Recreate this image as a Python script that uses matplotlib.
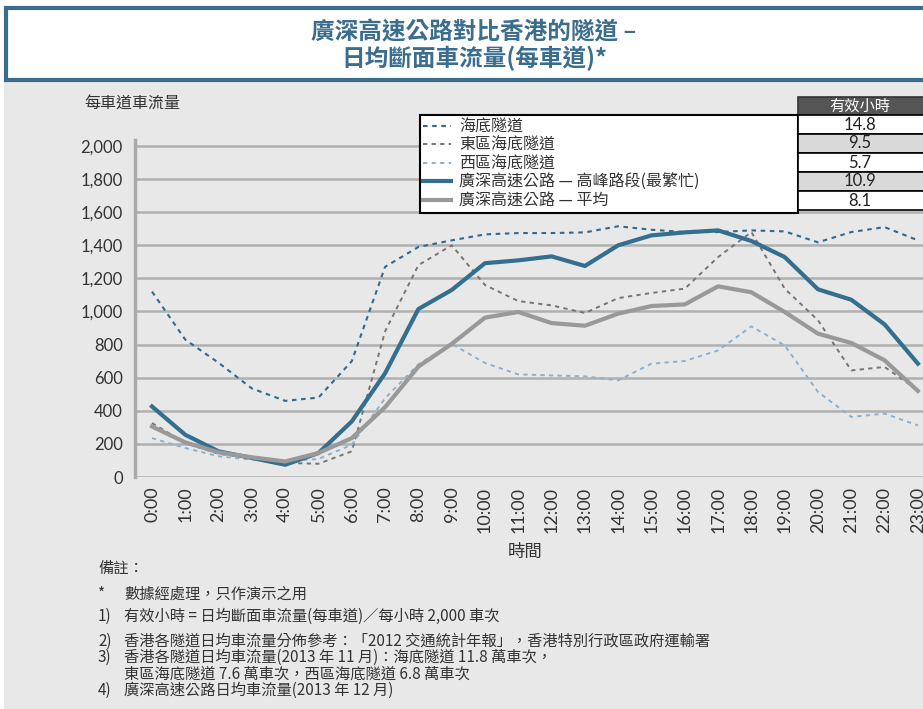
import matplotlib
matplotlib.use("Agg")
import matplotlib.pyplot as plt
from matplotlib.patches import Rectangle

plt.rcParams['font.family'] = ['Noto Sans CJK TC', 'DejaVu Sans']

hours = [f"{h}:00" for h in range(24)]

harbour = [1120, 830, 690, 535, 460, 480, 700, 1270, 1390, 1430, 1466, 1474,
           1474, 1478, 1515, 1494, 1480, 1480, 1490, 1484, 1418, 1480, 1510, 1430]
eastern = [326, 205, 140, 115, 85, 80, 155, 880, 1280, 1400, 1160, 1063,
           1037, 991, 1081, 1112, 1138, 1329, 1480, 1138, 947, 644, 665, 524]
western = [235, 175, 125, 105, 95, 109, 195, 476, 681, 804, 689, 620,
           614, 608, 584, 685, 701, 765, 910, 795, 514, 363, 383, 312]
gs_peak = [426, 255, 155, 115, 74, 145, 336, 627, 1015, 1130, 1292, 1309,
           1333, 1275, 1400, 1460, 1478, 1490, 1426, 1329, 1134, 1071, 922, 685]
gs_avg = [305, 209, 149, 119, 94, 145, 235, 422, 667, 804, 963, 997,
          930, 914, 987, 1033, 1043, 1152, 1116, 997, 866, 810, 705, 520]

series_labels = ["海底隧道", "東區海底隧道", "西區海底隧道",
                 "廣深高速公路 — 高峰路段(最繁忙)", "廣深高速公路 — 平均"]
effective_hours = ["14.8", "9.5", "5.7", "10.9", "8.1"]

notes = [
    ("*", "數據經處理，只作演示之用"),
    ("1)", "有效小時 = 日均斷面車流量(每車道)／每小時 2,000 車次"),
    ("2)", "香港各隧道日均車流量分佈參考：「2012 交通統計年報」，香港特別行政區政府運輸署"),
    ("3)", "香港各隧道日均車流量(2013 年 11 月)：海底隧道 11.8 萬車次，\n東區海底隧道 7.6 萬車次，西區海底隧道 6.8 萬車次"),
    ("4)", "廣深高速公路日均車流量(2013 年 12 月)"),
]
note_rows = [594, 616, 641, 657, 690]

W, H = 923, 709
fig = plt.figure(figsize=(W / 100, H / 100), dpi=100)
fig.patch.set_facecolor("white")


def fx(x):
    return x / W


def fy(y):
    return 1 - y / H


# grey page background and title box
fig.patches.append(Rectangle((fx(4), 0), 1, fy(82), transform=fig.transFigure,
                             facecolor="#e8e8e8", edgecolor="none", zorder=-2))
fig.patches.append(Rectangle((fx(6), fy(80)), 1, fy(8) - fy(80), transform=fig.transFigure,
                             facecolor="white", edgecolor="#3a6c8c", lw=3, zorder=-1))
title_color = "#3b6d8e"
fig.text(fx(474), fy(32), "廣深高速公路對比香港的隧道 –", ha="center", va="center",
         fontsize=17, fontweight="bold", color=title_color)
fig.text(fx(474), fy(58), "日均斷面車流量(每車道)*", ha="center", va="center",
         fontsize=17, fontweight="bold", color=title_color)

# axes: 0:00 at x=152, 33.3 px per hour, 0 at y=477, 2000 at y=146
x0, step = 152, 33.3
ax = fig.add_axes([fx(x0 - 0.5 * step), fy(477), 24 * step / W, (477 - 140) / H])
ax.set_facecolor("none")
ax.set_ylim(0, 2000 * (477 - 140) / (477 - 146))
ax.set_xlim(-0.5, 23.5)

xs = range(len(hours))
ax.plot(xs, harbour, color="#2f6a8f", lw=1.5, ls=(0, (2.2, 2.2)), label=series_labels[0], zorder=3)
ax.plot(xs, eastern, color="#767676", lw=1.4, ls=(0, (2.2, 2.2)), label=series_labels[1], zorder=3)
ax.plot(xs, western, color="#8db0d0", lw=1.4, ls=(0, (2.2, 2.2)), label=series_labels[2], zorder=3)
ax.plot(xs, gs_peak, color="#356f90", lw=3, label=series_labels[3], zorder=4)
ax.plot(xs, gs_avg, color="#999999", lw=3, label=series_labels[4], zorder=4)

ax.set_yticks(range(0, 2001, 200))
ax.set_yticklabels([f"{v:,}" for v in range(0, 2001, 200)], fontsize=12,
                   family=["Lato", "DejaVu Sans"], color="#333333")
ax.set_xticks(list(xs))
ax.set_xticklabels(hours, rotation=90, fontsize=13, family=["Lato", "DejaVu Sans"],
                   color="#333333")
ax.tick_params(length=0, pad=7)
ax.tick_params(axis="y", pad=9)
ax.grid(axis="y", color="#b0b0b0", lw=1.8)
ax.set_axisbelow(True)
for s in ["top", "right", "bottom"]:
    ax.spines[s].set_visible(False)
ax.spines["left"].set_color("#aaaaaa")
ax.spines["left"].set_linewidth(2.5)

leg = ax.legend(loc="upper left", mode="expand", ncol=1,
                bbox_to_anchor=(fx(420), fy(210), fx(798) - fx(420), fy(115) - fy(210)),
                bbox_transform=fig.transFigure, fontsize=11.5, frameon=True,
                fancybox=False, framealpha=1, borderpad=0.2, labelspacing=0.1,
                handlelength=1.75, handletextpad=0.5, borderaxespad=0)
leg.get_frame().set_edgecolor("black")
leg.get_frame().set_linewidth(1.5)
for t in leg.get_texts():
    t.set_color("#333333")

# effective hours table
fig.patches.append(Rectangle((fx(798), fy(115)), fx(923) - fx(798) + 0.01, fy(97) - fy(115),
                             transform=fig.transFigure, facecolor="#555555",
                             edgecolor="#333333", lw=1.2))
fig.text(fx(860), fy(106), "有效小時", ha="center", va="center", fontsize=11, color="white")
row_h = 19
for i, val in enumerate(effective_hours):
    top = 115 + i * row_h
    fc = "white" if i % 2 == 0 else "#d9d9d9"
    fig.patches.append(Rectangle((fx(798), fy(top + row_h)), fx(923) - fx(798) + 0.01,
                                 fy(top) - fy(top + row_h), transform=fig.transFigure,
                                 facecolor=fc, edgecolor="black", lw=1.2))
    fig.text(fx(860), fy(top + row_h / 2), val, ha="center", va="center", fontsize=12,
             family=["Lato", "DejaVu Sans"], color="#222222")

fig.text(fx(84), fy(104), "每車道車流量", ha="left", va="center", fontsize=11.5, color="#333333")
fig.text(fx(525), fy(552), "時間", ha="center", va="center", fontsize=12.5, color="#333333")

fig.text(fx(98), fy(568), "備註：", ha="left", va="center", fontsize=11, color="#333333")
for (mark, text), y in zip(notes, note_rows):
    fig.text(fx(98), fy(y - 8), mark, ha="left", va="top", fontsize=11, color="#333333")
    fig.text(fx(124), fy(y - 8), text, ha="left", va="top", fontsize=11, color="#333333",
             linespacing=0.95)

fig.savefig("out.png", dpi=100)
